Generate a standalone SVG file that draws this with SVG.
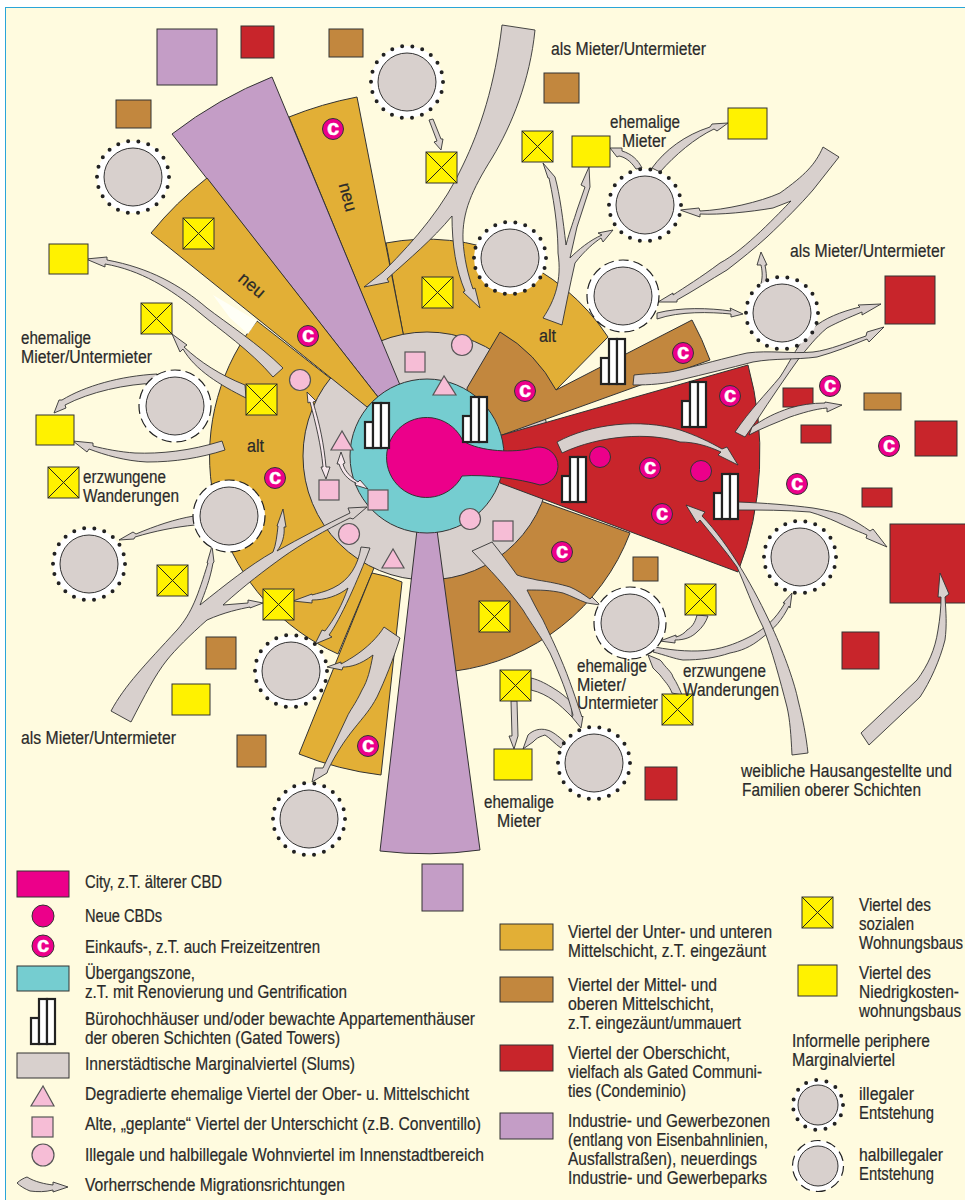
<svg xmlns="http://www.w3.org/2000/svg" width="965" height="1200" viewBox="0 0 965 1200">
<style>
.z{stroke:#333;stroke-width:1;stroke-linejoin:miter}
.och{fill:#E2AF36}.bro{fill:#C2873E}.red{fill:#C8252B}.pur{fill:#C49DC6}.tur{fill:#75CDD0}.mag{fill:#EC008A}.gry{fill:#D8D0CD}.yel{fill:#FFF200}
.a{fill:#D8D0CD;stroke:#333;stroke-width:.9;stroke-linejoin:miter}
.as{fill:#F6E7EC;stroke:#333;stroke-width:.9;stroke-linejoin:miter}
.p{fill:#F6BDD6;stroke:#555;stroke-width:1.2}
.t{font-family:"Liberation Sans Narrow","Liberation Sans",Arial,sans-serif;font-size:17.5px;fill:#2a2a2a;stroke:#2a2a2a;stroke-width:.2}
.ct{font-family:"Liberation Sans",Arial,sans-serif;font-size:22px;font-weight:700;fill:#fff;text-anchor:middle;stroke:#fff;stroke-width:.4}
.cc{fill:#EC008A;stroke:#333;stroke-width:1}
.tw{fill:#fff;stroke:#222;stroke-width:2.2}
.xl{fill:none;stroke:#222;stroke-width:1}
</style>
<defs>
<g id="ill"><circle r="36" fill="#fff"/><circle r="36" fill="none" stroke="#222" stroke-width="4" stroke-linecap="round" stroke-dasharray="0 10.28"/><circle r="29" class="z gry"/></g>
<g id="hal"><circle r="36" fill="#fff" stroke="#222" stroke-width="1.2" stroke-dasharray="10 5"/><circle r="29" class="z gry"/></g>
<g id="xb"><rect width="31" height="31" class="z yel"/><path d="M0,0L31,31M31,0L0,31" class="xl"/></g>
<g id="tow"><rect x="0" y="19" width="8" height="26" class="tw"/><rect x="8" y="0" width="8" height="45" class="tw"/><rect x="16" y="0" width="8" height="45" class="tw"/></g>
</defs>
<rect width="965" height="1200" fill="#fff"/>
<rect x="5.5" y="7.5" width="965" height="1200" fill="#FFFBDF" stroke="#2AA5D8" stroke-width="1"/>

<g id="zones">
<path id="alt-left" class="z och" d="M257,321L247,334L240,345A217,217 0 0 0 338,654L372,573L400,500L367,407Z"/>
<path d="M213,295L257,321L248,334L230,318Z" fill="#FFFFF6"/>
<path id="alt-top" class="z och" d="M403,333L386,243A217,217 0 0 1 608,337L556,390L500,440L420,400Z"/>
<path id="wedge-neu-top" class="z och" d="M289,117A366,366 0 0 1 357,97L403,333L405,345L385,350Z"/>
<path id="wedge-bottom" class="z och" d="M372,573L299,754A323,323 0 0 0 381,775L402,582A128,128 0 0 0 372,573Z"/>
<path id="brown-low" class="z bro" d="M630,533A217,217 0 0 1 455,671L430,540L510,490Z"/>
<circle id="slums" cx="427" cy="456" r="124" class="z gry"/>
<path id="brown-up" class="z bro" d="M467,388L500,332A145,145 0 0 1 556,390L692,320A298,298 0 0 1 710,360L502,435L470,440Z"/>
<path id="upper-class" class="z red" d="M748,365A333,333 0 0 1 738,572L500,483L490,440L502,435Z"/>
<path id="ind-top" class="z pur" d="M272,77A410,410 0 0 0 172,134L378,397L400,385Z"/>
<path id="ind-bottom" class="z pur" d="M417,530L380,851Q430,857 480,850L437,530Z"/>
<path id="wedge-neu-left" class="z och" d="M207,178A355,355 0 0 0 151,233L367,407L378,397Z"/>
<circle id="transition" cx="427" cy="456" r="77" class="z tur"/>
<path id="city" class="z mag" d="M463,441A40,40 0 1 0 462,476C485,474 520,479 540,485A19,19 0 1 0 533,448C515,453 480,452 463,441Z"/>
</g>

<g id="area-boxes">
<rect x="157" y="29" width="60" height="56" class="z pur"/><rect x="422" y="864" width="41" height="47" class="z pur"/>
<rect x="241" y="26" width="33" height="32" class="z red"/><rect x="885" y="276" width="50" height="48" class="z red"/><rect x="783" y="388" width="30" height="19" class="z red"/><rect x="801" y="425" width="30" height="18" class="z red"/><rect x="915" y="421" width="42" height="35" class="z red"/><rect x="862" y="488" width="30" height="19" class="z red"/><rect x="890" y="524" width="80" height="79" class="z red"/><rect x="842" y="632" width="37" height="37" class="z red"/><rect x="645" y="767" width="32" height="33" class="z red"/>
<rect x="329" y="29" width="34" height="28" class="z bro"/><rect x="116" y="100" width="35" height="28" class="z bro"/><rect x="544" y="73" width="35" height="30" class="z bro"/><rect x="206" y="637" width="30" height="32" class="z bro"/><rect x="237" y="735" width="29" height="32" class="z bro"/><rect x="633" y="557" width="25" height="24" class="z bro"/><rect x="864" y="393" width="37" height="17" class="z bro"/>
</g>

<g id="connectors">
<path class="a" d="M502,25L535,30C530,80 512,125 492,158C472,190 462,212 463,240C464,258 468,275 473,289L475,288L480,308L463,292L465,291C456,270 452,245 452,216C432,240 410,258 387,279L389,282L364,287L383,272L385,270C415,240 445,205 463,165C480,130 495,85 502,25Z"/>
<path class="a" d="M429,120L433,119L441,139L443,139L441,150L434,142L437,141Z"/>
<path class="a" d="M245,385C220,375 200,362 184,347L187,345L172,334L180,352L183,349C195,370 220,385 246,398Z"/>
<path class="a" d="M283,368C260,345 225,322 207,308C180,285 150,268 107,260L107,257L86,259L105,267L105,264C140,270 170,288 200,313C220,330 250,350 273,377Z"/>
<path class="a" d="M157,374C120,376 85,386 62,400L59,400L54,413L66,408L65,405C90,392 125,384 158,383Z"/>
<path class="a" d="M222,441C190,451 160,454 135,453C120,452 105,449 93,446L93,443L73,441L87,452L89,449C105,455 125,461 147,462C175,462 200,458 225,450Z"/>
<path class="a" d="M194,516C175,519 155,526 136,534L133,532L119,540L134,539L135,537C155,531 175,527 195,525Z"/>
<path class="a" d="M111,711C125,685 145,665 177,630C192,613 198,595 208,563L207,563L212,546L214,562L213,563C210,580 205,592 200,605C225,585 250,565 273,552C276,545 277,535 278,526L277,526L283,509L286,527L284,527C285,535 282,545 277,551C300,538 325,525 350,513L348,508L367,507L353,519L350,518C325,530 300,545 283,557C265,570 245,585 223,605L248,603L248,600L263,603L250,608L250,607C240,609 225,612 207,620C190,635 175,650 167,660C155,675 145,695 131,722Z"/>
<path class="a" d="M361,547C358,565 350,580 333,588C325,592 318,593 312,595L312,594L293,601L312,603L312,600C325,600 338,596 348,588C342,605 335,618 325,631L322,630L315,644L332,637L329,635C340,620 358,580 370,548Z"/>
<path class="a" d="M384,627C378,637 367,648 353,657C348,660 345,662 341,664L341,662L327,667L342,670L343,667C350,667 360,665 373,655C370,670 368,680 362,690C355,705 350,710 347,717L323,768L315,768L312,782L327,773L328,770C335,755 345,740 353,730C365,715 370,710 377,697C385,680 393,660 400,638Z"/>
<path class="a" d="M543,318C555,300 562,280 558,253C558,235 556,210 549,178L548,178L543,163L555,177L555,177C560,195 563,220 566,245C570,230 574,220 577,210L585,187L581,185L589,167L590,187L590,187L577,227L570,258C578,250 590,240 602,235L598,233L613,230L603,242L601,238C595,242 585,250 575,263C570,285 566,305 562,325Z"/>
<path class="a" d="M636,169C630,160 624,157 619,156L617,157L610,148L622,148L622,151C632,154 638,160 642,168Z"/>
<path class="a" d="M652,168C665,150 685,135 710,127L712,124L728,123L717,131L714,129C695,138 675,155 660,172Z"/>
<path class="a" d="M823,147C815,165 805,175 780,193C760,202 725,210 700,211L699,208L680,210L700,217L700,214C720,215 750,212 773,208L791,201C780,212 745,250 720,263C700,278 685,287 673,295L673,293L658,302L677,302L677,300C695,290 710,280 727,270C740,260 755,248 767,237C785,220 800,205 813,190L839,157Z"/>
<path class="a" d="M761,284C763,275 762,270 761,265L757,265L761,252L767,265L765,265C766,270 767,277 766,282Z"/>
<path class="a" d="M657,313C680,307 710,308 731,311L730,308L743,314L731,317L731,314C710,312 680,311 657,319Z"/>
<path class="a" d="M735,432C750,410 765,395 780,377C790,362 800,340 813,328C825,318 840,312 860,307L858,305L881,304L862,315L862,312C848,318 838,322 827,328C815,338 808,348 800,357C785,378 770,400 757,420L745,437Z"/>
<path class="a" d="M634,375C650,373 665,374 680,370C700,365 725,358 747,353C770,350 790,354 813,352C830,350 848,342 866,336L867,332L884,327L869,342L867,339C850,346 835,352 817,357C795,360 775,358 753,362C730,368 705,374 680,380C665,384 650,385 633,385Z"/>
<path class="a" d="M749,435L752,427C765,418 775,413 790,408C800,405 812,403 825,403L825,402L842,405L827,412L827,408C815,409 802,413 790,417C778,422 762,428 749,435Z"/>
<path class="a" d="M557,442C590,424 640,418 680,430C695,435 710,442 722,449L727,447L738,465L718,455L721,452C708,446 695,442 680,442C650,432 600,435 562,453Z"/>
<path class="a" d="M861,733L917,680C928,665 935,650 938,630C940,618 941,608 941,597L938,597L940,573L949,594L945,597C946,612 947,625 945,640C940,660 930,682 920,697L869,745Z"/>
<path class="a" d="M738,502C765,503 790,505 813,508C830,511 840,513 847,517C855,521 863,526 870,531L873,529L887,547L866,538L867,535C855,530 845,526 837,522C828,518 820,515 810,512C785,510 762,510 738,510Z"/>
<path class="a" d="M697,615C695,623 692,627 687,630C685,633 680,636 676,637L676,635L660,641L675,643L675,640C685,640 692,637 697,632C702,628 706,622 708,616Z"/>
<path class="a" d="M655,647C675,651 695,652 710,650C725,648 740,642 753,635C765,628 775,620 785,603L783,603L792,593L790,608L789,606C782,620 775,628 763,637C750,648 740,651 730,653C715,658 700,660 683,660C675,659 665,655 653,652Z"/>
<path class="a" d="M792,755C791,735 790,720 787,707C780,680 772,650 763,627C752,605 745,585 737,567C725,550 712,535 700,520L697,523L686,505L705,512L702,516C730,545 755,590 772,627C785,655 795,685 798,700C803,720 806,735 808,753Z"/>
<path class="a" d="M672,693C669,685 665,682 660,675L653,668L648,655L660,660L662,662C665,667 672,672 673,677C677,683 680,690 682,695Z"/>
<path class="a" d="M531,678C540,680 548,685 553,688C560,692 566,697 572,703L572,717C565,710 560,705 553,700C547,696 540,692 531,690Z"/>
<path class="a" d="M492,542C500,552 510,565 517,575C525,578 530,578 537,580C550,582 560,584 570,587C577,590 583,594 590,599L592,597L600,605L587,603L587,603C578,600 572,596 563,593C550,590 540,590 527,590C532,600 537,610 543,620C550,635 555,645 560,657C570,680 576,700 582,717L583,716L581,728L572,717L573,715C568,695 560,675 550,653C540,635 532,625 523,610C505,585 490,570 472,551Z"/>
<path class="a" d="M511,701L517,701L518,736L514,749L509,736L512,736Z"/>
<path class="a" d="M565,742C558,736 552,731 547,730C540,728 533,730 528,735L523,749L533,742L535,740C538,737 542,736 545,735C550,738 555,744 561,748Z"/>
<path class="a" d="M17,1183C20,1180 24,1178 27,1177C35,1182 45,1184 53,1185L53,1182L68,1187L53,1192L53,1190C45,1192 38,1192 30,1191C25,1189 20,1186 17,1183Z"/>
<path class="as" d="M307,392L316,401L313,402C320,425 324,445 326,467L330,467L326,479L321,467L323,467C321,445 316,425 310,402L308,403Z"/>
<path class="as" d="M341,452L345,463L343,464C345,472 352,478 358,482L360,480L368,489L355,485L356,483C348,480 342,473 339,464L337,464Z"/>
</g>

<g id="social-housing">
<use href="#xb" x="426" y="152"/><use href="#xb" x="183" y="218"/><use href="#xb" x="422" y="277"/><use href="#xb" x="141" y="303"/><use href="#xb" x="246" y="384"/><use href="#xb" x="48" y="467"/><use href="#xb" x="157" y="565"/><use href="#xb" x="263" y="589"/><use href="#xb" x="479" y="601"/><use href="#xb" x="522" y="131"/><use href="#xb" x="685" y="584"/><use href="#xb" x="662" y="694"/><use href="#xb" x="500" y="670"/>
</g>
<g id="low-cost-housing">
<rect x="572" y="136" width="38" height="31" class="z yel"/><rect x="728" y="108" width="39" height="31" class="z yel"/><rect x="49" y="244" width="39" height="30" class="z yel"/><rect x="36" y="415" width="38" height="30" class="z yel"/><rect x="172" y="684" width="38" height="31" class="z yel"/><rect x="494" y="749" width="38" height="31" class="z yel"/>
</g>
<g id="informal">
<use href="#ill" x="407" y="82"/><use href="#ill" x="133" y="177"/><use href="#ill" x="510" y="258"/><use href="#ill" x="645" y="205"/><use href="#ill" x="782" y="313"/><use href="#ill" x="89" y="564"/><use href="#ill" x="291" y="671"/><use href="#ill" x="309" y="819"/><use href="#ill" x="800" y="557"/><use href="#ill" x="594" y="763"/>
<use href="#hal" x="623" y="296"/><use href="#hal" x="175" y="406"/><use href="#hal" x="229" y="516"/><use href="#hal" x="630" y="623"/>
</g>
<g id="towers">
<use href="#tow" x="365" y="403"/><use href="#tow" x="463" y="397"/><use href="#tow" x="601" y="339"/><use href="#tow" x="682" y="382"/><use href="#tow" x="562" y="457"/><use href="#tow" x="714" y="474"/>
</g>
<g id="inner-quarters">
<rect x="405" y="352" width="20" height="20" class="p"/><rect x="319" y="480" width="20" height="20" class="p"/><rect x="368" y="490" width="20" height="20" class="p"/><rect x="493" y="521" width="20" height="20" class="p"/>
<path class="p" d="M444,376L433,395L456,395Z"/><path class="p" d="M342,431L331,450L353,450Z"/><path class="p" d="M393,549L382,568L404,568Z"/>
<circle cx="462" cy="345" r="10.5" class="p"/><circle cx="300" cy="380" r="10.5" class="p"/><circle cx="349" cy="534" r="10.5" class="p"/><circle cx="470" cy="519" r="10.5" class="p"/>
</g>
<g id="new-cbds"><circle cx="600" cy="457" r="10.5" class="cc"/><circle cx="701" cy="471" r="10.5" class="cc"/></g>
<g id="shopping">
<g><circle cx="333" cy="129" r="10.5" class="cc"/><text x="333" y="135" class="ct">c</text></g>
<g><circle cx="308" cy="336" r="10.5" class="cc"/><text x="308" y="342" class="ct">c</text></g>
<g><circle cx="525" cy="391" r="10.5" class="cc"/><text x="525" y="397" class="ct">c</text></g>
<g><circle cx="275" cy="478" r="10.5" class="cc"/><text x="275" y="484" class="ct">c</text></g>
<g><circle cx="562" cy="552" r="10.5" class="cc"/><text x="562" y="558" class="ct">c</text></g>
<g><circle cx="683" cy="353" r="10.5" class="cc"/><text x="683" y="359" class="ct">c</text></g>
<g><circle cx="730" cy="396" r="10.5" class="cc"/><text x="730" y="402" class="ct">c</text></g>
<g><circle cx="830" cy="386" r="10.5" class="cc"/><text x="830" y="392" class="ct">c</text></g>
<g><circle cx="889" cy="446" r="10.5" class="cc"/><text x="889" y="452" class="ct">c</text></g>
<g><circle cx="650" cy="468" r="10.5" class="cc"/><text x="650" y="474" class="ct">c</text></g>
<g><circle cx="797" cy="484" r="10.5" class="cc"/><text x="797" y="490" class="ct">c</text></g>
<g><circle cx="662" cy="514" r="10.5" class="cc"/><text x="662" y="520" class="ct">c</text></g>
<g><circle cx="368" cy="746" r="10.5" class="cc"/><text x="368" y="752" class="ct">c</text></g>
</g>

<g id="labels">
<text class="t" x="551" y="55" textLength="155" lengthAdjust="spacingAndGlyphs">als Mieter/Untermieter</text>
<text class="t" x="790" y="257" textLength="155" lengthAdjust="spacingAndGlyphs">als Mieter/Untermieter</text>
<text class="t" x="21" y="744" textLength="155" lengthAdjust="spacingAndGlyphs">als Mieter/Untermieter</text>
<text class="t" x="610" y="128" textLength="70" lengthAdjust="spacingAndGlyphs">ehemalige</text>
<text class="t" x="622" y="147" textLength="44" lengthAdjust="spacingAndGlyphs">Mieter</text>
<text class="t" x="21" y="344" textLength="70" lengthAdjust="spacingAndGlyphs">ehemalige</text>
<text class="t" x="21" y="363" textLength="131" lengthAdjust="spacingAndGlyphs">Mieter/Untermieter</text>
<text class="t" x="83" y="483" textLength="83" lengthAdjust="spacingAndGlyphs">erzwungene</text>
<text class="t" x="83" y="502" textLength="96" lengthAdjust="spacingAndGlyphs">Wanderungen</text>
<text class="t" x="577" y="672" textLength="70" lengthAdjust="spacingAndGlyphs">ehemalige</text>
<text class="t" x="577" y="691" textLength="49" lengthAdjust="spacingAndGlyphs">Mieter/</text>
<text class="t" x="577" y="709" textLength="81" lengthAdjust="spacingAndGlyphs">Untermieter</text>
<text class="t" x="683" y="677" textLength="83" lengthAdjust="spacingAndGlyphs">erzwungene</text>
<text class="t" x="683" y="696" textLength="96" lengthAdjust="spacingAndGlyphs">Wanderungen</text>
<text class="t" x="741" y="777" textLength="211" lengthAdjust="spacingAndGlyphs">weibliche Hausangestellte und</text>
<text class="t" x="742" y="796" textLength="179" lengthAdjust="spacingAndGlyphs">Familien oberer Schichten</text>
<text class="t" x="484" y="808" textLength="70" lengthAdjust="spacingAndGlyphs">ehemalige</text>
<text class="t" x="497" y="827" textLength="44" lengthAdjust="spacingAndGlyphs">Mieter</text>
<text class="t" x="539" y="342" textLength="17" lengthAdjust="spacingAndGlyphs">alt</text>
<text class="t" x="247" y="452" textLength="17" lengthAdjust="spacingAndGlyphs">alt</text>
<text class="t" text-anchor="middle" transform="translate(252,285) rotate(40)" y="6">neu</text>
<text class="t" text-anchor="middle" transform="translate(348,197) rotate(75)" y="6">neu</text>
</g>

<g id="legend">
<g id="leg-city"><rect x="17" y="871" width="52" height="26" class="z mag"/><text class="t" x="85" y="888" textLength="137" lengthAdjust="spacingAndGlyphs">City, z.T. älterer CBD</text></g>
<g id="leg-cbd"><circle cx="43" cy="916" r="11" class="cc"/><text class="t" x="85" y="922" textLength="77" lengthAdjust="spacingAndGlyphs">Neue CBDs</text></g>
<g id="leg-c"><circle cx="43" cy="946" r="11" class="cc"/><text x="43" y="952" class="ct">c</text><text class="t" x="85" y="953" textLength="235" lengthAdjust="spacingAndGlyphs">Einkaufs-, z.T. auch Freizeitzentren</text></g>
<g id="leg-trans"><rect x="17" y="966" width="52" height="25" class="z tur"/><text class="t" x="85" y="979" textLength="110" lengthAdjust="spacingAndGlyphs">Übergangszone,</text><text class="t" x="85" y="998" textLength="262" lengthAdjust="spacingAndGlyphs">z.T. mit Renovierung und Gentrification</text></g>
<g id="leg-tower"><use href="#tow" x="31" y="999"/><text class="t" x="85" y="1025" textLength="390" lengthAdjust="spacingAndGlyphs">Bürohochhäuser und/oder bewachte Appartementhäuser</text><text class="t" x="85" y="1044" textLength="255" lengthAdjust="spacingAndGlyphs">der oberen Schichten (Gated Towers)</text></g>
<g id="leg-slum"><rect x="17" y="1053" width="52" height="25" class="z gry"/><text class="t" x="85" y="1070" textLength="270" lengthAdjust="spacingAndGlyphs">Innerstädtische Marginalviertel (Slums)</text></g>
<g id="leg-tri"><path class="p" d="M43,1086L31,1106L54,1106Z"/><text class="t" x="85" y="1100" textLength="384" lengthAdjust="spacingAndGlyphs">Degradierte ehemalige Viertel der Ober- u. Mittelschicht</text></g>
<g id="leg-sq"><rect x="32" y="1117" width="21" height="20" class="p"/><text class="t" x="85" y="1130" textLength="396" lengthAdjust="spacingAndGlyphs">Alte, „geplante“ Viertel der Unterschicht (z.B. Conventillo)</text></g>
<g id="leg-cir"><circle cx="43" cy="1155" r="11" class="p"/><text class="t" x="85" y="1161" textLength="399" lengthAdjust="spacingAndGlyphs">Illegale und halbillegale Wohnviertel im Innenstadtbereich</text></g>
<g id="leg-arrow"><text class="t" x="85" y="1191" textLength="260" lengthAdjust="spacingAndGlyphs">Vorherrschende Migrationsrichtungen</text></g>
<g id="leg-och"><rect x="500" y="924" width="53" height="26" class="z och"/><text class="t" x="568" y="938" textLength="204" lengthAdjust="spacingAndGlyphs">Viertel der Unter- und unteren</text><text class="t" x="568" y="957" textLength="198" lengthAdjust="spacingAndGlyphs">Mittelschicht, z.T. eingezäunt</text></g>
<g id="leg-bro"><rect x="500" y="977" width="53" height="25" class="z bro"/><text class="t" x="568" y="991" textLength="149" lengthAdjust="spacingAndGlyphs">Viertel der Mittel- und</text><text class="t" x="568" y="1010" textLength="146" lengthAdjust="spacingAndGlyphs">oberen Mittelschicht,</text><text class="t" x="568" y="1029" textLength="173" lengthAdjust="spacingAndGlyphs">z.T. eingezäunt/ummauert</text></g>
<g id="leg-red"><rect x="500" y="1045" width="53" height="26" class="z red"/><text class="t" x="568" y="1059" textLength="162" lengthAdjust="spacingAndGlyphs">Viertel der Oberschicht,</text><text class="t" x="568" y="1078" textLength="194" lengthAdjust="spacingAndGlyphs">vielfach als Gated Communi-</text><text class="t" x="568" y="1097" textLength="118" lengthAdjust="spacingAndGlyphs">ties (Condeminio)</text></g>
<g id="leg-pur"><rect x="500" y="1113" width="53" height="26" class="z pur"/><text class="t" x="568" y="1127" textLength="202" lengthAdjust="spacingAndGlyphs">Industrie- und Gewerbezonen</text><text class="t" x="568" y="1146" textLength="200" lengthAdjust="spacingAndGlyphs">(entlang von Eisenbahnlinien,</text><text class="t" x="568" y="1165" textLength="189" lengthAdjust="spacingAndGlyphs">Ausfallstraßen), neuerdings</text><text class="t" x="568" y="1184" textLength="199" lengthAdjust="spacingAndGlyphs">Industrie- und Gewerbeparks</text></g>
<g id="leg-x"><use href="#xb" x="802" y="897"/><text class="t" x="859" y="911" textLength="72" lengthAdjust="spacingAndGlyphs">Viertel des</text><text class="t" x="859" y="930" textLength="55" lengthAdjust="spacingAndGlyphs">sozialen</text><text class="t" x="859" y="949" textLength="104" lengthAdjust="spacingAndGlyphs">Wohnungsbaus</text></g>
<g id="leg-yel"><rect x="798" y="965" width="39" height="31" class="z yel"/><text class="t" x="859" y="979" textLength="72" lengthAdjust="spacingAndGlyphs">Viertel des</text><text class="t" x="859" y="998" textLength="100" lengthAdjust="spacingAndGlyphs">Niedrigkosten-</text><text class="t" x="859" y="1017" textLength="102" lengthAdjust="spacingAndGlyphs">wohnungsbaus</text></g>
<g id="leg-inf"><text class="t" x="792" y="1047" textLength="138" lengthAdjust="spacingAndGlyphs">Informelle periphere</text><text class="t" x="792" y="1066" textLength="103" lengthAdjust="spacingAndGlyphs">Marginalviertel</text></g>
<g id="leg-ill"><circle cx="818" cy="1105" r="25" fill="#fff"/><circle cx="818" cy="1105" r="25" fill="none" stroke="#222" stroke-width="4" stroke-linecap="round" stroke-dasharray="0 10.47"/><circle cx="818" cy="1105" r="20" class="z gry"/><text class="t" x="859" y="1100" textLength="55" lengthAdjust="spacingAndGlyphs">illegaler</text><text class="t" x="859" y="1119" textLength="75" lengthAdjust="spacingAndGlyphs">Entstehung</text></g>
<g id="leg-hal"><circle cx="818" cy="1166" r="25.5" fill="#fff" stroke="#222" stroke-width="1.2" stroke-dasharray="10 6"/><circle cx="818" cy="1166" r="20" class="z gry"/><text class="t" x="859" y="1161" textLength="84" lengthAdjust="spacingAndGlyphs">halbillegaler</text><text class="t" x="859" y="1180" textLength="75" lengthAdjust="spacingAndGlyphs">Entstehung</text></g>
</g>
</svg>
